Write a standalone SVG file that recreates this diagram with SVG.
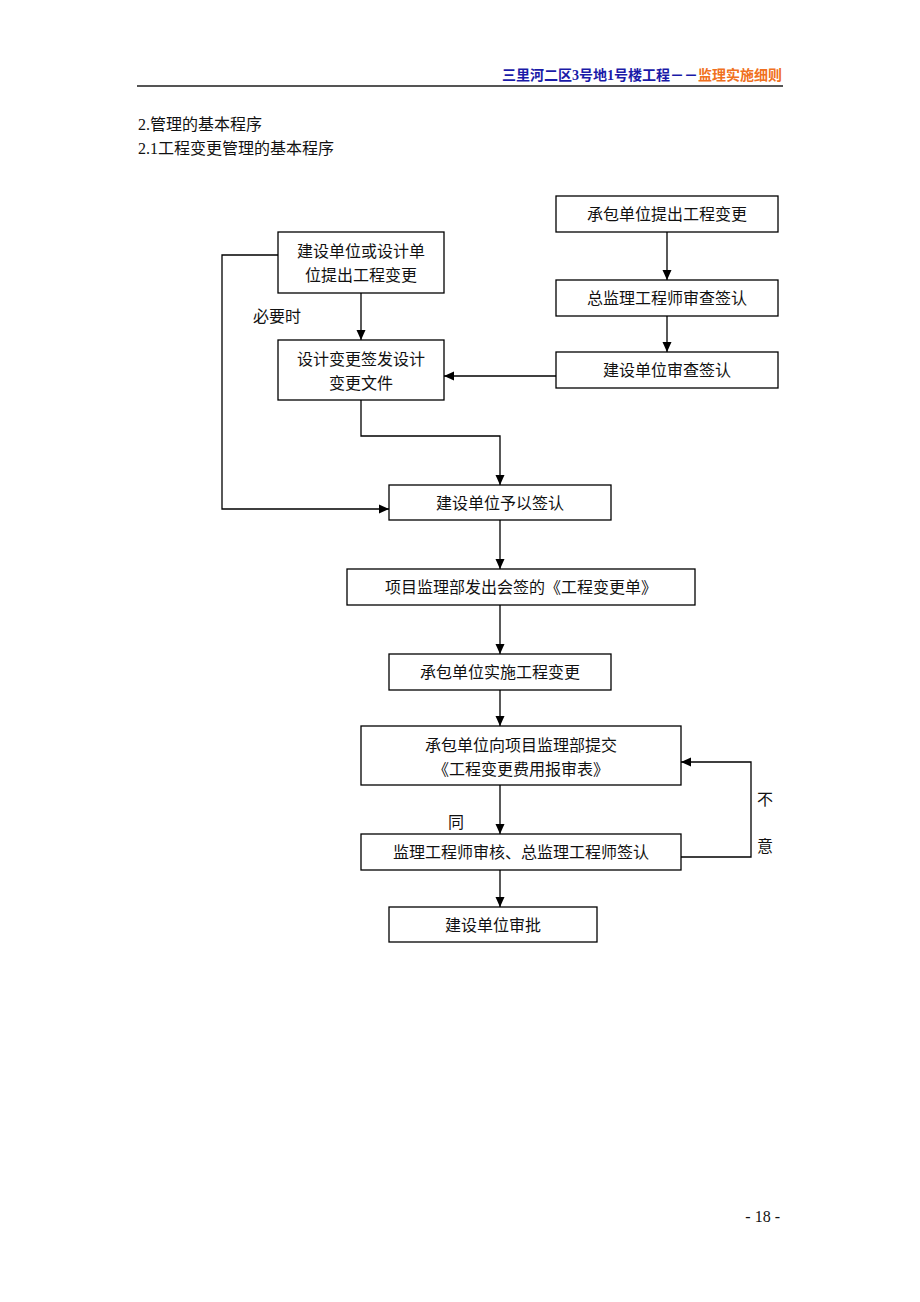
<svg xmlns="http://www.w3.org/2000/svg" width="920" height="1302" viewBox="0 0 920 1302">
<style>
text{font-family:"Liberation Serif","Noto Sans CJK SC",serif;font-size:16px;fill:#111}
.box rect{fill:#fff;stroke:#000;stroke-width:1.3}
.box text{text-anchor:middle}
.c{fill:none;stroke:#000;stroke-width:1.3}
</style>
<defs>
<marker id="ah" viewBox="0 0 10 10" refX="10" refY="5" markerWidth="10" markerHeight="10" markerUnits="userSpaceOnUse" orient="auto">
<path d="M0,0.5 L10,5 L0,9.5 Z" fill="#000"/>
</marker>
</defs>
<rect width="920" height="1302" fill="#fff"/>
<g id="header">
<text x="782" y="80" text-anchor="end" style="font-size:14px;font-weight:bold"><tspan style="fill:#1a1aa8">三里河二区3号地1号楼工程－－</tspan><tspan style="fill:#f07020">监理实施细则</tspan></text>
<line x1="137" y1="86" x2="783" y2="86" stroke="#555" stroke-width="2"/>
</g>
<text x="138" y="130">2.管理的基本程序</text>
<text x="138" y="154">2.1工程变更管理的基本程序</text>
<g id="connectors">
<line class="c" x1="667" y1="232" x2="667" y2="280" marker-end="url(#ah)"/>
<line class="c" x1="667" y1="316" x2="667" y2="352" marker-end="url(#ah)"/>
<line class="c" x1="556" y1="376" x2="444" y2="376" marker-end="url(#ah)"/>
<line class="c" x1="361" y1="293" x2="361" y2="340" marker-end="url(#ah)"/>
<polyline class="c" points="361,400 361,436 500,436 500,485" marker-end="url(#ah)"/>
<polyline class="c" points="278,255 222,255 222,509 389,509" marker-end="url(#ah)"/>
<line class="c" x1="500" y1="520" x2="500" y2="569" marker-end="url(#ah)"/>
<line class="c" x1="500" y1="605" x2="500" y2="654" marker-end="url(#ah)"/>
<line class="c" x1="500" y1="690" x2="500" y2="726" marker-end="url(#ah)"/>
<line class="c" x1="500" y1="785" x2="500" y2="834" marker-end="url(#ah)"/>
<line class="c" x1="500" y1="870" x2="500" y2="907" marker-end="url(#ah)"/>
<polyline class="c" points="681,857 751,857 751,762 681,762" marker-end="url(#ah)"/>
<text x="253" y="322">必要时</text>
<text x="448" y="828">同</text>
<text x="757" y="805">不</text>
<text x="757" y="852">意</text>
</g>
<g id="n1" class="box"><rect x="556" y="196" width="222" height="36"/><text x="667" y="220">承包单位提出工程变更</text></g>
<g id="n2" class="box"><rect x="556" y="280" width="222" height="36"/><text x="667" y="304">总监理工程师审查签认</text></g>
<g id="n3" class="box"><rect x="556" y="352" width="222" height="36"/><text x="667" y="376">建设单位审查签认</text></g>
<g id="n4" class="box"><rect x="278" y="232" width="166" height="61"/><text x="361" y="257">建设单位或设计单</text><text x="361" y="281">位提出工程变更</text></g>
<g id="n5" class="box"><rect x="278" y="340" width="166" height="60"/><text x="361" y="365">设计变更签发设计</text><text x="361" y="389">变更文件</text></g>
<g id="n6" class="box"><rect x="389" y="485" width="222" height="35"/><text x="500" y="509">建设单位予以签认</text></g>
<g id="n7" class="box"><rect x="347" y="569" width="348" height="36"/><text x="521" y="593">项目监理部发出会签的《工程变更单》</text></g>
<g id="n8" class="box"><rect x="389" y="654" width="222" height="36"/><text x="500" y="678">承包单位实施工程变更</text></g>
<g id="n9" class="box"><rect x="361" y="726" width="320" height="59"/><text x="521" y="751">承包单位向项目监理部提交</text><text x="521" y="775">《工程变更费用报审表》</text></g>
<g id="n10" class="box"><rect x="361" y="834" width="320" height="36"/><text x="521" y="858">监理工程师审核、总监理工程师签认</text></g>
<g id="n11" class="box"><rect x="389" y="907" width="208" height="35"/><text x="493" y="931">建设单位审批</text></g>
<text x="780" y="1222" text-anchor="end">- 18 -</text>
</svg>
